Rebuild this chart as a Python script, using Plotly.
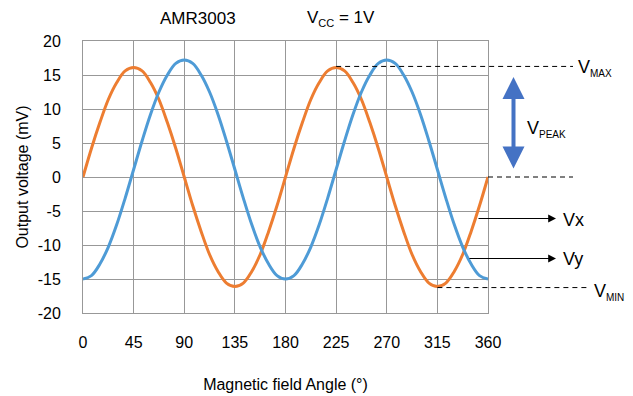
import plotly.graph_objects as go

# ---- data ----
angles = [i * 7.5 for i in range(49)]
vx_mv = [0, 4.2, 8.0, 11.4, 13.9, 15.6, 16.1, 15.6, 13.9, 11.4, 8.0, 4.2,
         0, -4.2, -8.0, -11.4, -13.9, -15.6, -16.1, -15.6, -13.9, -11.4, -8.0, -4.2,
         0, 4.2, 8.0, 11.4, 13.9, 15.6, 16.1, 15.6, 13.9, 11.4, 8.0, 4.2,
         0, -4.2, -8.0, -11.4, -13.9, -15.6, -16.1, -15.6, -13.9, -11.4, -8.0, -4.2, 0]
vy_mv = [-15.0, -14.5, -12.8, -10.3, -7.0, -3.1, 1.1, 5.3, 9.2, 12.5, 15.0, 16.7,
         17.2, 16.7, 15.0, 12.5, 9.2, 5.3, 1.1, -3.1, -7.0, -10.3, -12.8, -14.5,
         -15.0, -14.5, -12.8, -10.3, -7.0, -3.1, 1.1, 5.3, 9.2, 12.5, 15.0, 16.7,
         17.2, 16.7, 15.0, 12.5, 9.2, 5.3, 1.1, -3.1, -7.0, -10.3, -12.8, -14.5, -15.0]
x_ticks = [0, 45, 90, 135, 180, 225, 270, 315, 360]
y_ticks = [-20, -15, -10, -5, 0, 5, 10, 15, 20]

FONT = "Arial, Liberation Sans, sans-serif"
ORANGE = "#ED7D31"
BLUE = "#4E9BD6"
GRID = "#989898"

W, H = 633, 396
ML, MR, MT, MB = 83, 145, 41, 83
PW, PH = W - ML - MR, H - MT - MB
XR = [0, 360]
YR = [-20, 20]


def px(xpix):
    return (xpix - ML) / PW


def py(ypix):
    return (H - MB - ypix) / PH


def dx(v):
    return (v - XR[0]) / (XR[1] - XR[0])


def dy(v):
    return (v - YR[0]) / (YR[1] - YR[0])


fig = go.Figure()
fig.add_trace(go.Scatter(x=angles, y=vx_mv, mode="lines", name="Vx",
                         line=dict(color=ORANGE, width=3, shape="spline", smoothing=1.0),
                         showlegend=False, hoverinfo="skip"))
fig.add_trace(go.Scatter(x=angles, y=vy_mv, mode="lines", name="Vy",
                         line=dict(color=BLUE, width=3, shape="spline", smoothing=1.0),
                         showlegend=False, hoverinfo="skip"))

vmax = max(vx_mv)
vmin = min(vx_mv)
dash = "5px,4px"
shapes = [
    # V_MAX level
    dict(type="line", xref="paper", yref="paper", x0=dx(225), x1=px(573),
         y0=dy(vmax) + 0.004, y1=dy(vmax) + 0.004, line=dict(color="black", width=1, dash=dash)),
    # zero level
    dict(type="line", xref="paper", yref="paper", x0=dx(360), x1=px(573),
         y0=dy(0), y1=dy(0), line=dict(color="black", width=1, dash=dash)),
    # V_MIN level
    dict(type="line", xref="paper", yref="paper", x0=dx(315), x1=px(588),
         y0=dy(vmin) - 0.004, y1=dy(vmin) - 0.004, line=dict(color="black", width=1, dash=dash)),
]


def lab(text, x, y, size=18, anchor="left"):
    return dict(text=text, xref="paper", yref="paper", x=px(x), y=py(y),
                xanchor=anchor, yanchor="middle", showarrow=False,
                font=dict(size=size, color="black", family=FONT))


def sub(s, size=10):
    return "<sub><span style='font-size:%dpx'>%s</span></sub>" % (size, s)


annotations = [
    lab("AMR3003", 198, 18, 17, "center"),
    lab("V" + sub("CC", 11) + " = 1V", 305, 18, 17),
    lab("V" + sub("MAX"), 576, 68),
    lab("V" + sub("PEAK"), 525, 129),
    lab("V" + sub("MIN"), 592, 292),
    lab("Vx", 561, 220),
    lab("Vy", 561, 259),
    # Vx pointer
    dict(text="", xref="paper", yref="paper", x=px(556), y=py(218.5), ax=477 - 556, ay=0,
         showarrow=True, arrowhead=2, arrowsize=1.3, arrowwidth=1.2, arrowcolor="black"),
    # Vy pointer
    dict(text="", xref="paper", yref="paper", x=px(556), y=py(258.5), ax=468 - 556, ay=0,
         showarrow=True, arrowhead=2, arrowsize=1.3, arrowwidth=1.2, arrowcolor="black"),
    # V_PEAK double arrow
    dict(text="", xref="paper", yref="paper", x=px(513.5), y=py(77), ax=0, ay=170 - 77,
         showarrow=True, arrowhead=2, startarrowhead=2, arrowside="end+start",
         arrowsize=1.1, startarrowsize=1.1, arrowwidth=4, arrowcolor="#4472C4"),
]

fig.update_layout(
    width=W, height=H,
    margin=dict(l=ML, r=MR, t=MT, b=MB, pad=0, autoexpand=False),
    paper_bgcolor="white", plot_bgcolor="white",
    font=dict(family=FONT, size=16, color="black"),
    shapes=shapes, annotations=annotations,
    showlegend=False,
)
fig.update_xaxes(range=XR, tickvals=x_ticks, ticktext=[str(t) for t in x_ticks],
                 showgrid=True, gridcolor=GRID, gridwidth=1, zeroline=False,
                 showline=True, linecolor=GRID, linewidth=1, mirror=True, automargin=False,
                 ticks="", ticklabelstandoff=15, tickfont=dict(size=16),
                 title=dict(text="Magnetic field Angle (°)", standoff=28, font=dict(size=16)))
fig.update_yaxes(range=YR, tickvals=y_ticks, ticktext=[str(t) for t in y_ticks],
                 showgrid=True, gridcolor=GRID, gridwidth=1, zeroline=False,
                 showline=True, linecolor=GRID, linewidth=1, mirror=True, automargin=False,
                 ticks="", ticklabelstandoff=18, tickfont=dict(size=16),
                 title=dict(text="Output voltage (mV)", standoff=5, font=dict(size=16)))

fig.write_html("out.html", config={"displayModeBar": False},
               post_script="document.body.style.margin='0px';document.body.style.padding='0px';")
